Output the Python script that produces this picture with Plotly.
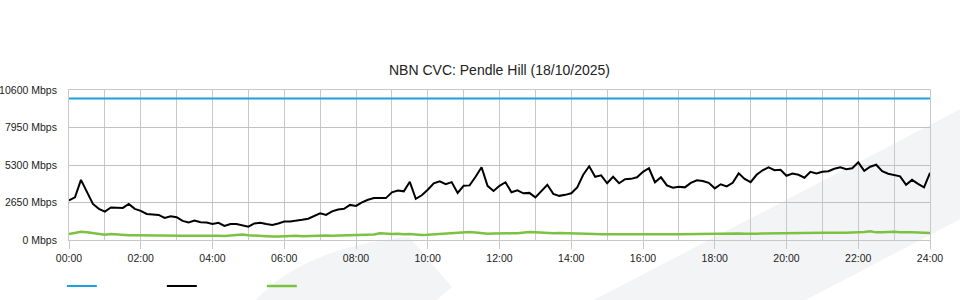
import plotly.graph_objects as go

# ---- data ----
hours = [i / 6 for i in range(145)]  # 10-minute samples, 00:00 .. 24:00

capacity_hours = [0, 24]
capacity_mbps = [10000, 10000]

download_mbps = [
    2800, 3010, 4250, 3400, 2550, 2200, 2010, 2300, 2300, 2270, 2550, 2200, 2060,
    1840, 1810, 1770, 1560, 1670, 1610, 1350, 1240, 1380, 1250, 1230, 1130,
    1210, 990, 1130, 1130, 1060, 940, 1170, 1220, 1130, 1060, 1170, 1310,
    1310, 1350, 1430, 1500, 1670, 1880, 1770, 2020, 2160, 2200, 2480, 2410,
    2660, 2840, 2960, 2960, 2960, 3370, 3500, 3440, 4110, 2910, 3160, 3550,
    4010, 4150, 3940, 4090, 3330, 3830, 3860, 4470, 5140, 3830, 3470, 3830,
    4080, 3370, 3510, 3300, 3330, 3010, 3420, 3900, 3260, 3120, 3190, 3300,
    3720, 4610, 5210, 4470, 4570, 4010, 4470, 4010, 4300, 4320, 4430, 4820,
    5070, 4080, 4430, 3860, 3690, 3760, 3720, 4040, 4220, 4170, 4040, 3650,
    3940, 3790, 4040, 4710, 4320, 4090, 4610, 4930, 5140, 4930, 4960, 4540,
    4690, 4610, 4400, 4820, 4710, 4820, 4860, 5030, 5140, 5000, 5070, 5490,
    4890, 5180, 5320, 4860, 4680, 4570, 4500, 3900, 4250, 3970, 3720, 4750,
]

upload_mbps = [
    430, 520, 580, 540, 470, 400, 370, 420, 380, 350, 340, 330, 320,
    330, 350, 300, 320, 310, 310, 300, 300, 310, 290, 310, 300,
    300, 290, 320, 300, 380, 330, 300, 310, 260, 250, 250, 280,
    290, 300, 270, 290, 320, 300, 310, 300, 310, 300, 310, 320,
    340, 360, 390, 470, 440, 430, 440, 400, 430, 380, 360, 370,
    400, 430, 460, 480, 500, 540, 560, 530, 470, 450, 460, 480,
    500, 470, 480, 530, 560, 540, 510, 480, 470, 490, 470, 450,
    440, 430, 420, 420, 410, 400, 400, 380, 410, 400, 400, 410,
    400, 400, 400, 410, 410, 410, 420, 420, 420, 440, 430, 460,
    430, 440, 450, 460, 440, 470, 450, 460, 470, 460, 480, 470,
    470, 490, 480, 490, 500, 520, 510, 500, 510, 520, 530, 540,
    560, 620, 540, 540, 560, 580, 540, 560, 550, 530, 520, 500, 500,
]

x_tick_vals = [0, 2, 4, 6, 8, 10, 12, 14, 16, 18, 20, 22, 24]
x_tick_text = ["00:00", "02:00", "04:00", "06:00", "08:00", "10:00", "12:00",
               "14:00", "16:00", "18:00", "20:00", "22:00", "24:00"]
y_tick_vals = [0, 2650, 5300, 7950, 10600]
y_tick_text = ["0 Mbps", "2650 Mbps", "5300 Mbps", "7950 Mbps", "10600 Mbps"]

title_text = "NBN CVC: Pendle Hill (18/10/2025)"

BLUE = "#1ea0e0"
BLACK = "#000000"
GREEN = "#7cc242"
GRID = "#c8c8c8"
WATERMARK = "#f3f4f6"
FONT = "Liberation Sans, Arial, sans-serif"

fig = go.Figure()
fig.add_trace(go.Scatter(x=capacity_hours, y=capacity_mbps, mode="lines",
                         line=dict(color=BLUE, width=2), name=" "))
fig.add_trace(go.Scatter(x=hours, y=download_mbps, mode="lines",
                         line=dict(color=BLACK, width=2), name=" "))
fig.add_trace(go.Scatter(x=hours, y=upload_mbps, mode="lines",
                         line=dict(color=GREEN, width=2.5), name=" "))

# faint background watermark
fig.add_shape(type="path", xref="paper", yref="paper", layer="below",
              path="M 0.6028,-0.42 L 1.04,0.8867 L 1.04,0.1533 L 0.849,-0.42 Z",
              fillcolor=WATERMARK, line=dict(width=0))
fig.add_shape(type="path", xref="paper", yref="paper", layer="below",
              path="M 0.2137,-0.42 Q 0.27,-0.05 0.3949,0.02 L 0.4448,-0.3133 L 0.4228,-0.42 Z",
              fillcolor=WATERMARK, line=dict(width=0))

fig.update_layout(
    width=960, height=300,
    margin=dict(l=69, r=30, t=90, b=60, autoexpand=False),
    paper_bgcolor="white",
    plot_bgcolor="rgba(0,0,0,0)",
    font=dict(family=FONT, size=10.5, color="#222"),
    title=dict(text=title_text, x=0.5, xref="paper", xanchor="center",
               y=1 - 70 / 300, yanchor="middle",
               font=dict(size=14, color="#222", family=FONT)),
    showlegend=True,
    legend=dict(orientation="h", x=-0.0083, xanchor="left", y=-0.21, yanchor="top",
                entrywidth=55, entrywidthmode="pixels",
                bgcolor="rgba(0,0,0,0)", font=dict(size=11)),
    xaxis=dict(range=[0, 24], tickvals=x_tick_vals, ticktext=x_tick_text,
               automargin=False,
               showgrid=True, gridcolor=GRID, gridwidth=1,
               ticks="outside", ticklen=8, tickcolor=GRID, tickwidth=1,
               showline=True, linecolor=GRID, linewidth=1, mirror=True,
               zeroline=False,
               minor=dict(dtick=1, tick0=0, showgrid=True, gridcolor=GRID, gridwidth=1, ticks=""),
               tickfont=dict(size=10.5, color="#222")),
    yaxis=dict(range=[0, 10600], tickvals=y_tick_vals, ticktext=y_tick_text,
               automargin=False,
               showgrid=True, gridcolor="#c2c2c2", gridwidth=1,
               ticks="outside", ticklen=9, tickcolor="rgba(0,0,0,0)",
               showline=True, linecolor=GRID, linewidth=1, mirror=True,
               zeroline=False,
               tickfont=dict(size=10.5, color="#222")),
)

fig.write_html("out.html")
